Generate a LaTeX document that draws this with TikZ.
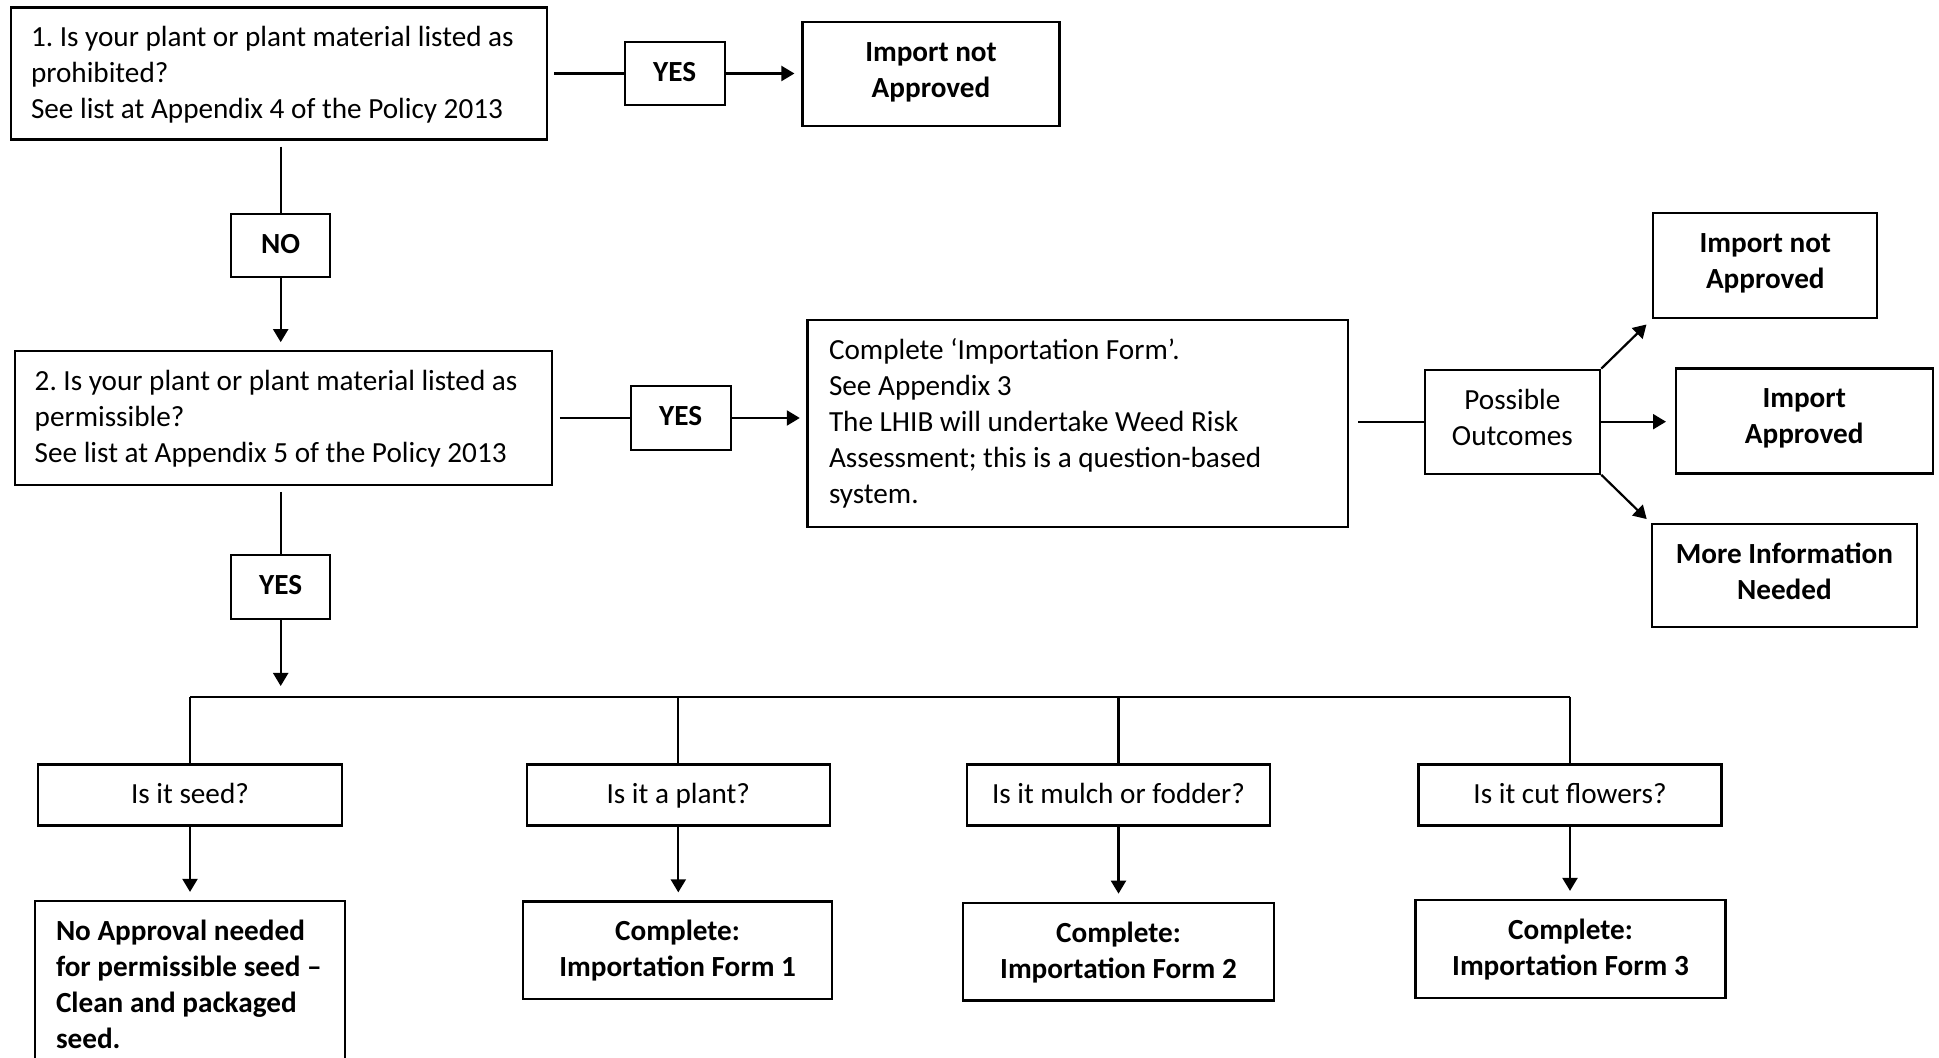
\documentclass[tikz,border=0pt]{standalone}
\usepackage{fontspec}
\setmainfont{Carlito}
\usetikzlibrary{arrows.meta}
\newcommand\fsz{\fontsize{14.6pt}{18pt}\selectfont\frenchspacing}
% centred text, top aligned (Word text box style)
\newcommand\cbx[3]{\parbox[c][#2][t]{#1}{\centering\rule{0pt}{19.7pt}\ignorespaces#3\par}}
% left aligned text, top aligned, with left padding #4
\newcommand\lbx[4]{\parbox[c][#2][t]{#1}{\raggedright\leftskip=#4\rule{0pt}{19.7pt}\ignorespaces#3\par}}
\begin{document}
\begin{tikzpicture}[x=0.5pt,y=-0.5pt,
  box/.style={draw, line width=1.1pt, inner sep=0pt, font=\fsz},
  bbox/.style={box, font=\fsz\bfseries},
  con/.style={line width=1.1pt},
  arr/.style={con, -{Triangle[width=7.5pt,length=6.5pt]}}]
\clip (0,0) rectangle (1939,1058);
% top row
\node[box] (q1) at (279,73.5)
  {\lbx{268pt}{66pt}{\mbox{1. Is your plant or plant material listed as}\\prohibited?\\\mbox{See list at Appendix 4 of the Policy 2013}}{10pt}};
\node[bbox] (yes1) at (674.6,73.5) {\cbx{50pt}{31.5pt}{YES}};
\node[bbox] (na1) at (931,74) {\cbx{128.5pt}{52pt}{Import not\\Approved}};
\node[bbox] (no) at (280.7,245.5) {\cbx{49.5pt}{31.5pt}{NO}};
% second row
\node[box] (q2) at (283.2,418)
  {\lbx{268.5pt}{66.75pt}{\mbox{2. Is your plant or plant material listed as}\\permissible?\\\mbox{See list at Appendix 5 of the Policy 2013}}{10pt}};
\node[bbox] (yes2) at (680.7,418) {\cbx{50pt}{32pt}{YES}};
\node[box] (form) at (1077.7,423.5)
  {\lbx{270.2pt}{103.25pt}{Complete ‘Importation Form’.\\See Appendix 3\\\mbox{The LHIB will undertake Weed Risk}\\\mbox{Assessment; this is a question-based}\\system.}{10.75pt}};
\node[box] (po) at (1512.4,421.7) {\cbx{87.8pt}{52pt}{Possible\\Outcomes}};
\node[bbox] (na2) at (1765.3,265.3) {\cbx{112pt}{52.5pt}{Import not\\Approved}};
\node[bbox] (ap) at (1804.2,421) {\cbx{128.5pt}{52.5pt}{Import\\Approved}};
\node[bbox] (mi) at (1784.4,575.7) {\cbx{132.3pt}{51.35pt}{More Information\\Needed}};
\node[bbox] (yes3) at (280.7,587.4) {\cbx{49.5pt}{32pt}{YES}};
% questions
\node[box] (seedq) at (190,795) {\cbx{152pt}{30.5pt}{Is it seed?}};
\node[box] (plantq) at (678.3,795) {\cbx{151.5pt}{30.5pt}{Is it a plant?}};
\node[box] (mulchq) at (1118.5,795) {\cbx{151.5pt}{30.5pt}{Is it mulch or fodder?}};
\node[box] (cutq) at (1570,795) {\cbx{151.5pt}{30.5pt}{Is it cut flowers?}};
% answers
\node[bbox] (seeda) at (190,986)
  {\lbx{155pt}{85pt}{\mbox{No Approval needed}\\\mbox{for permissible seed –}\\\mbox{Clean and packaged}\\seed.}{10.5pt}};
\node[bbox] (pla) at (677.6,950.3) {\cbx{154.5pt}{48.85pt}{Complete:\\Importation Form 1}};
\node[bbox] (mua) at (1118.5,951.6) {\cbx{155.2pt}{48.85pt}{Complete:\\Importation Form 2}};
\node[bbox] (cua) at (1570.5,949) {\cbx{155pt}{49pt}{Complete:\\Importation Form 3}};
% connectors
\draw[con, shorten <=3pt] (q1.east) -- (yes1.west);
\draw[arr, shorten >=3.5pt] (yes1.east) -- (yes1.east -| na1.west);
\draw[con, shorten <=3pt] (no.north |- q1.south) -- (no.north);
\draw[arr, shorten >=4pt] (no.south) -- (no.south |- q2.north);
\draw[con, shorten <=3.5pt] (q2.east) -- (yes2.west);
\draw[arr, shorten >=3.3pt] (yes2.east) -- (yes2.east -| form.west);
\draw[con, shorten <=4.5pt] (po.west -| form.east) -- (po.west);
\draw[arr, shorten >=4pt] (po.north east) -- (na2.south west);
\draw[arr, shorten >=4.3pt] (po.east) -- (po.east -| ap.west);
\draw[arr, shorten >=3pt] (po.south east) -- (mi.north west);
\draw[con, shorten <=3pt] (yes3.north |- q2.south) -- (yes3.north);
\coordinate (bar) at (0,697);
\draw[arr, shorten >=5.5pt] (yes3.south) -- (yes3.south |- bar);
\draw[con] (seedq.north |- bar) -- (cutq.north |- bar);
\foreach \n in {seedq,plantq,mulchq,cutq} \draw[con] (\n.north |- bar) -- (\n.north);
\draw[arr, shorten >=4pt] (seedq.south) -- (seedq.south |- seeda.north);
\draw[arr, shorten >=4pt] (plantq.south) -- (plantq.south |- pla.north);
\draw[arr, shorten >=4pt] (mulchq.south) -- (mulchq.south |- mua.north);
\draw[arr, shorten >=4pt] (cutq.south) -- (cutq.south |- cua.north);
\end{tikzpicture}
\end{document}
